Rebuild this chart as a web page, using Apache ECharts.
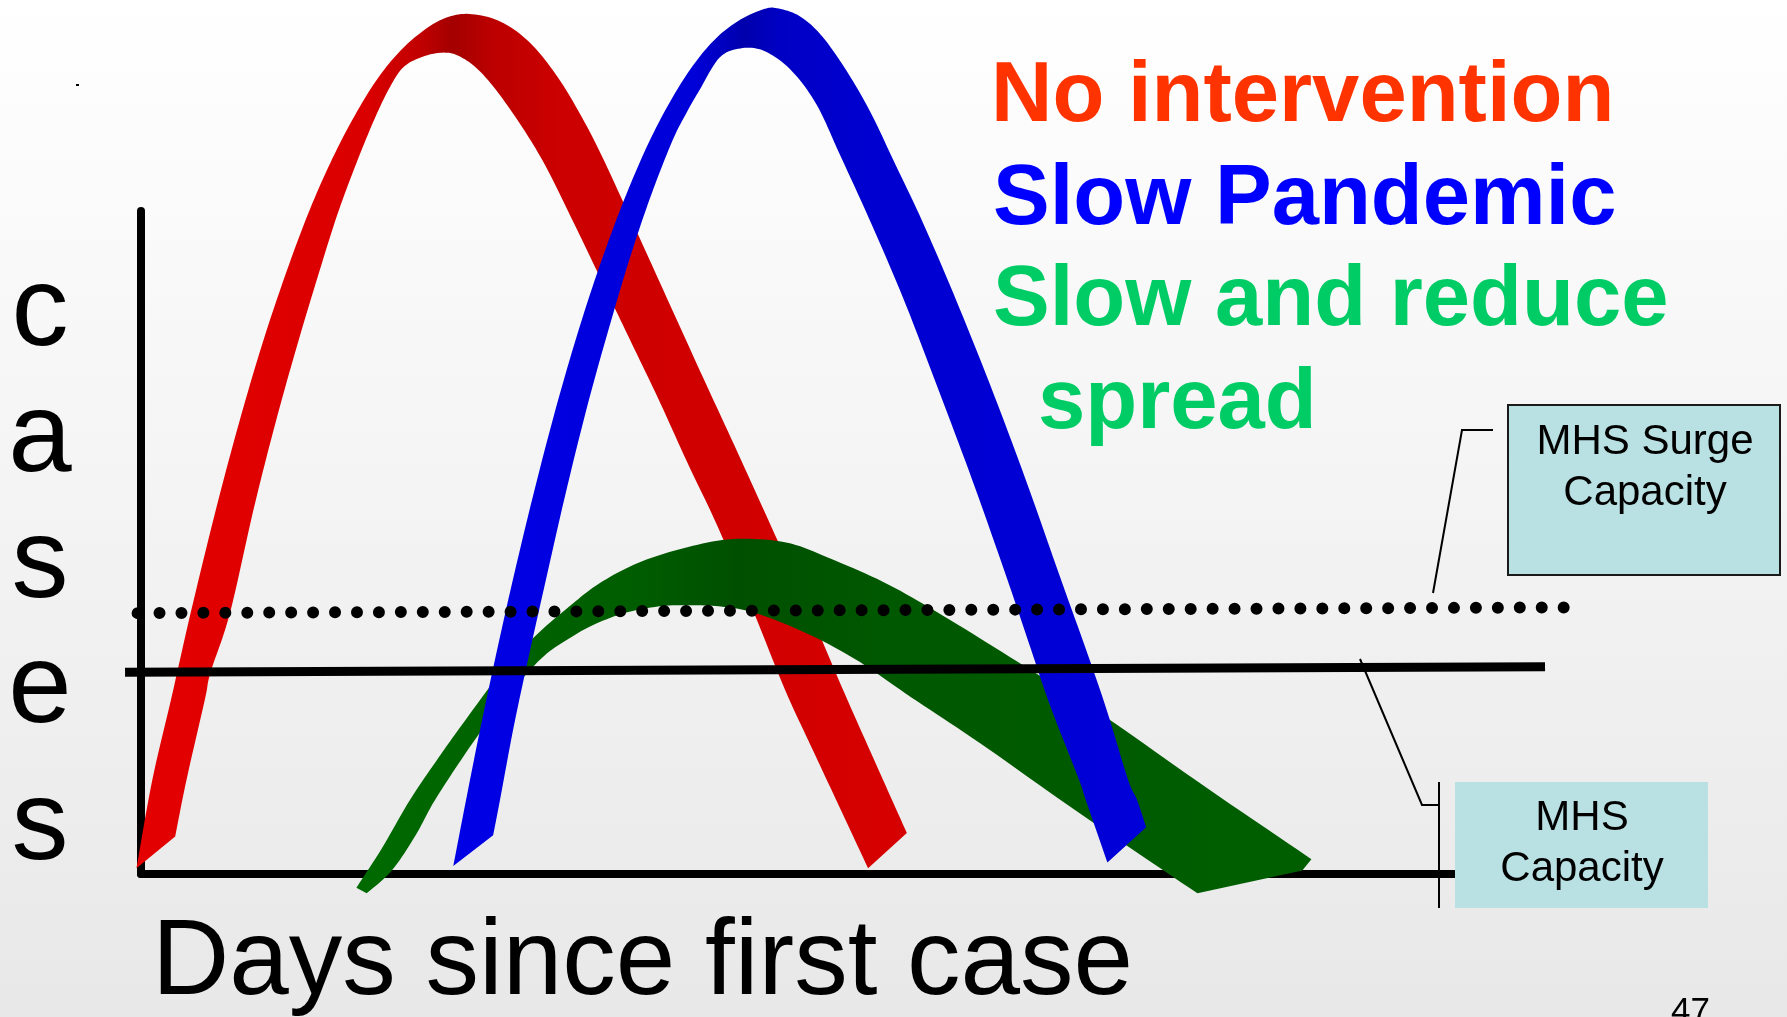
<!DOCTYPE html>
<html><head><meta charset="utf-8">
<script src="https://cdn.jsdelivr.net/npm/echarts@6/dist/echarts.min.js"></script>
<style>html,body{margin:0;padding:0;background:#fff;}#chart{width:1787px;height:1017px;}</style>
</head><body><div id="chart"></div>
<script>
// ---- data (x = days since first case, y = cases) ----
const xMax = 115.3;
const yMax = 58.2;

const redOuter = [[-0.4,0.5],[1.0,8.3],[2.7,15.6],[4.4,23.1],[6.6,32.1],[8.6,39.6],[10.6,46.4],[12.6,52.4],[14.6,57.8],[16.6,62.4],[18.6,66.3],[20.6,69.6],[22.6,72.1],[24.6,73.9],[26.6,75.1],[28.8,75.5],[31.6,74.8],[34.2,72.9],[36.6,69.9],[38.7,66.4],[40.5,62.9],[43.4,56.6],[46.4,50.0],[49.4,43.4],[52.4,36.9],[55.3,30.5],[58.6,23.2],[61.5,16.4],[63.8,11.2],[65.9,6.5],[67.2,3.6]];
const redInner = [[3.0,3.3],[4.0,8.3],[5.6,15.3],[6.1,17.7],[7.8,22.9],[9.9,32.1],[11.8,39.6],[13.7,46.4],[15.5,52.4],[17.2,57.8],[18.9,62.4],[20.5,66.3],[21.8,69.0],[23.0,70.8],[24.6,71.7],[26.4,72.1],[27.9,71.8],[29.8,70.4],[32.2,67.4],[35.2,62.7],[38.0,57.1],[40.6,51.7],[43.0,46.7],[45.4,41.7],[47.9,36.2],[50.6,30.5],[53.6,23.4],[56.5,16.2],[58.8,11.2],[61.0,6.5],[63.8,0.5]];

const blueOuter = [[27.4,0.7],[28.6,6.9],[29.8,12.9],[31.1,19.0],[32.6,25.7],[34.6,34.0],[36.6,41.6],[38.6,48.4],[40.6,54.4],[42.6,59.7],[44.6,64.3],[46.6,68.1],[48.6,71.2],[50.6,73.5],[52.6,75.0],[54.6,75.9],[55.8,76.0],[57.8,75.3],[59.8,73.5],[62.1,70.2],[64.1,66.7],[66.0,62.7],[68.6,57.2],[71.6,50.2],[74.6,42.7],[77.6,34.7],[80.6,26.2],[83.1,19.2],[84.8,14.2],[86.6,8.3],[87.4,6.5],[88.2,4.1]];
const blueInner = [[30.9,3.4],[31.5,6.5],[32.7,12.9],[34.0,19.0],[35.5,25.7],[37.4,34.0],[39.3,41.6],[41.2,48.4],[43.0,54.4],[44.8,59.7],[46.6,64.3],[47.8,66.7],[49.0,68.8],[50.8,71.7],[52.8,72.5],[54.8,72.2],[57.1,70.5],[59.3,67.5],[61.3,63.2],[63.9,57.5],[66.9,50.5],[69.9,42.7],[72.9,34.7],[75.9,26.2],[78.1,19.7],[79.8,14.7],[82.3,8.3],[82.9,6.5],[84.8,1.0]];

const greenUpper = [[18.9,-1.2],[21.1,2.2],[23.6,6.5],[26.1,10.2],[28.6,13.7],[31.6,17.7],[34.6,20.9],[37.6,23.5],[40.2,25.5],[43.6,27.3],[47.6,28.6],[51.9,29.4],[56.6,29.1],[60.7,27.6],[65.6,25.4],[71.0,22.3],[77.6,18.2],[84.6,13.8],[93.6,7.5],[102.7,1.3]];
const greenFoot = [[101.9,0.3]];
const greenLower = [[19.8,-1.7],[22.0,0.3],[24.1,3.4],[25.8,6.5],[29.1,11.5],[32.1,15.5],[35.1,18.9],[37.6,20.7],[40.2,22.1],[43.6,23.2],[47.6,23.6],[52.8,23.2],[57.8,21.4],[62.6,18.9],[67.6,15.5],[73.6,11.5],[82.4,5.3],[92.7,-1.7]];

const capacityLine = [[-1.4,17.7],[123.2,18.2]];
const surgeLine = [[-0.3,22.9],[124.9,23.4]];

const legendLabels = ['No intervention', 'Slow Pandemic', 'Slow and reduce', 'spread'];
const yLetters = ['c', 'a', 's', 'e', 's'];
const xTitle = 'Days since first case';
const surgeLabel = ['MHS Surge', 'Capacity'];
const capLabel = ['MHS', 'Capacity'];
const pageNumber = '47';

// ---- helpers ----
function smoothPts(pts, n) {
  const out = [];
  for (let i = 0; i < pts.length - 1; i++) {
    const p0 = pts[Math.max(i - 1, 0)], p1 = pts[i], p2 = pts[i + 1], p3 = pts[Math.min(i + 2, pts.length - 1)];
    for (let k = 0; k < n; k++) {
      const t = k / n, t2 = t * t, t3 = t2 * t;
      const f = (a, b, c, d) => 0.5 * (2 * b + (-a + c) * t + (2 * a - 5 * b + 4 * c - d) * t2 + (-a + 3 * b - 3 * c + d) * t3);
      out.push([f(p0[0], p1[0], p2[0], p3[0]), f(p0[1], p1[1], p2[1], p3[1])]);
    }
  }
  out.push(pts[pts.length - 1]);
  return out;
}
function ribbon(name, outer, end, inner, fill, z) {
  return {
    type: 'custom', name: name, z: z, silent: true, clip: false,
    data: [[0, 0]],
    renderItem: function (params, api) {
      const o = smoothPts(outer.map(p => api.coord(p)), 10);
      const e = end.map(p => api.coord(p));
      const i = smoothPts(inner.map(p => api.coord(p)), 10).reverse();
      return { type: 'polygon', shape: { points: o.concat(e, i) }, style: { fill: fill } };
    }
  };
}
function refLine(name, pts, style, z) {
  return {
    type: 'custom', name: name, z: z, silent: true, clip: false,
    data: [[0, 0]],
    renderItem: function (params, api) {
      const a = api.coord(pts[0]), b = api.coord(pts[1]);
      return { type: 'line', shape: { x1: a[0], y1: a[1], x2: b[0], y2: b[1] }, style: style };
    }
  };
}
const LG = (stops) => new echarts.graphic.LinearGradient(0, 0, 1, 0, stops.map(s => ({ offset: s[0], color: s[1] })));

const chart = echarts.init(document.getElementById('chart'), null, { renderer: 'canvas' });
const F = '"Liberation Sans", Arial, Helvetica, sans-serif';
const legendColors = ['#ff3300', '#0000ff', '#00cc66', '#00cc66'];
const legendPos = [[991, 98], [993, 201], [993, 302], [1038, 405]];
const letterY = [314, 440, 566, 691, 828];

const graphics = [
  { type: 'rect', z: -100, silent: true, shape: { x: 0, y: 0, width: 1787, height: 1017 },
    style: { fill: new echarts.graphic.LinearGradient(0, 0, 0, 1, [{ offset: 0, color: '#ffffff' }, { offset: 1, color: '#e8e8e8' }]) } },
  { type: 'rect', z: 100, shape: { x: 76, y: 84, width: 3, height: 2 }, style: { fill: '#000' } },
  // surge box
  { type: 'rect', z: 100, shape: { x: 1508, y: 405, width: 272, height: 170 }, style: { fill: '#b9e0e3', stroke: '#1a1a1a', lineWidth: 2 } },
  { type: 'text', z: 101, style: { text: surgeLabel[0], x: 1645, y: 442, font: '42px ' + F, fill: '#000', textAlign: 'center', textVerticalAlign: 'middle' } },
  { type: 'text', z: 101, style: { text: surgeLabel[1], x: 1645, y: 493, font: '42px ' + F, fill: '#000', textAlign: 'center', textVerticalAlign: 'middle' } },
  // capacity box
  { type: 'rect', z: 100, shape: { x: 1455, y: 782, width: 253, height: 126 }, style: { fill: '#b9e0e3' } },
  { type: 'text', z: 101, style: { text: capLabel[0], x: 1582, y: 818, font: '42px ' + F, fill: '#000', textAlign: 'center', textVerticalAlign: 'middle' } },
  { type: 'text', z: 101, style: { text: capLabel[1], x: 1582, y: 869, font: '42px ' + F, fill: '#000', textAlign: 'center', textVerticalAlign: 'middle' } },
  // callouts
  { type: 'polyline', z: 100, shape: { points: [[1493, 430], [1462, 430], [1433, 593]] }, style: { stroke: '#000', lineWidth: 2, fill: null } },
  { type: 'polyline', z: 100, shape: { points: [[1360, 659], [1422, 805], [1439, 805]] }, style: { stroke: '#000', lineWidth: 2, fill: null } },
  { type: 'line', z: 100, shape: { x1: 1439, y1: 782, x2: 1439, y2: 908 }, style: { stroke: '#000', lineWidth: 2 } },
  // axis titles
  { type: 'text', z: 101, style: { text: xTitle, x: 152, y: 964, font: '107px ' + F, fill: '#000', textAlign: 'left', textVerticalAlign: 'middle' } },
  { type: 'text', z: 101, style: { text: pageNumber, x: 1671, y: 1012, font: '35px ' + F, fill: '#000', textAlign: 'left', textVerticalAlign: 'middle' } }
];
yLetters.forEach((ch, k) => {
  graphics.push({ type: 'text', z: 101, style: { text: ch, x: 40, y: letterY[k], font: '114px ' + F, fill: '#000', textAlign: 'center', textVerticalAlign: 'middle' } });
});
legendLabels.forEach((t, k) => {
  graphics.push({ type: 'text', z: 101, style: { text: t, x: legendPos[k][0], y: legendPos[k][1], font: 'bold 85px ' + F, fill: legendColors[k], textAlign: 'left', textVerticalAlign: 'middle' } });
});

const option = {
  animation: false,
  backgroundColor: 'transparent',
  grid: { left: 141, top: 211, width: 1314, height: 663, outerBoundsMode: 'none', containLabel: false },
  xAxis: { type: 'value', min: 0, max: xMax, axisLine: { show: true, lineStyle: { color: '#000', width: 8 } },
           axisTick: { show: false }, axisLabel: { show: false }, splitLine: { show: false } },
  yAxis: { type: 'value', min: 0, max: yMax, axisLine: { show: true, lineStyle: { color: '#000', width: 8 } },
           axisTick: { show: false }, axisLabel: { show: false }, splitLine: { show: false } },
  graphic: graphics,
  series: [
    ribbon('No intervention', redOuter, [], redInner,
      LG([[0, '#e40000'], [0.3, '#da0000'], [0.37, '#c00000'], [0.41, '#a40000'], [0.46, '#bb0000'], [0.55, '#cc0000'], [1, '#d60000']]), 3),
    ribbon('Slow and reduce spread', greenUpper, greenFoot, greenLower,
      LG([[0, '#006a00'], [0.3, '#005c00'], [0.4, '#004f00'], [0.55, '#005800'], [1, '#005e00']]), 4),
    ribbon('Slow Pandemic', blueOuter, [], blueInner,
      LG([[0, '#0000e6'], [0.35, '#0000d8'], [0.42, '#0000ac'], [0.47, '#0000c4'], [0.6, '#0000d0'], [1, '#0000d8']]), 5),
    refLine('MHS Capacity', capacityLine, { stroke: '#000', lineWidth: 9 }, 6),
    refLine('MHS Surge Capacity', surgeLine, { stroke: '#000', lineWidth: 12, lineDash: [0, 21.94], lineCap: 'round' }, 7)
  ]
};
chart.setOption(option);
</script></body></html>
